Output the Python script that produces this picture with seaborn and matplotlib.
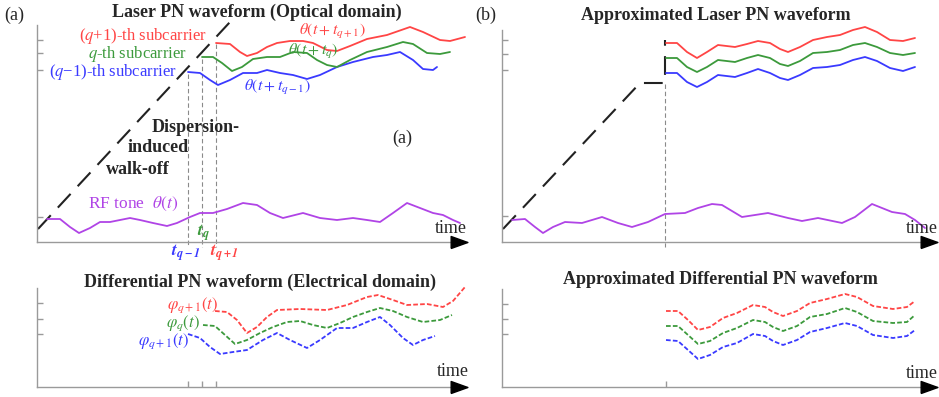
import numpy as np
import pandas as pd
import matplotlib
matplotlib.use("Agg")
import matplotlib.pyplot as plt
import seaborn as sns

sns.set_theme(style="white")
plt.rcParams["font.family"] = ["Liberation Serif", "DejaVu Serif"]
plt.rcParams["mathtext.fontset"] = "stix"

# ---------------- data (time / phase in screen-like units of each panel) -------------
# Top-left: laser PN waveform (optical domain)
tl_red_t = [216, 230, 240, 247, 257, 267, 277, 290, 303, 313, 327, 337, 350, 367, 387, 410, 423, 440, 450, 465]
tl_red_p = [43, 44, 52, 56, 53, 47, 43, 41, 41, 43, 50, 51, 46, 39, 35, 27, 32, 40, 41, 37]
tl_grn_t = [202, 213, 222, 232, 242, 253, 267, 280, 293, 307, 317, 327, 337, 350, 367, 387, 403, 413, 427, 440, 450]
tl_grn_p = [57, 57, 63, 71, 67, 59, 57, 57, 52, 53, 60, 65, 67, 60, 52, 47, 42, 44, 53, 54, 52]
tl_blu_t = [188, 200, 210, 218, 230, 243, 257, 267, 280, 293, 307, 320, 337, 353, 373, 387, 400, 413, 423, 433, 437]
tl_blu_p = [72, 73, 80, 85, 80, 73, 73, 70, 73, 75, 79, 75, 67, 62, 57, 55, 52, 60, 69, 70, 67]
tl_rf_t = [47, 60, 70, 79, 90, 100, 110, 120, 130, 140, 153, 167, 177, 190, 200, 213, 227, 243, 257, 270,
           283, 303, 320, 337, 353, 367, 380, 393, 407, 420, 433, 443, 453, 460]
tl_rf_p = [219, 219, 227, 233, 228, 222, 222, 220, 218, 220, 223, 226, 223, 217, 213, 213, 209, 203, 205, 213,
           218, 213, 218, 220, 218, 220, 222, 213, 203, 208, 213, 215, 220, 223]
tl_walk_t = [38, 230]
tl_walk_p = [229, 22]
tl_delays = [188, 202, 216]
tl_delay_top = [74, 59, 44]

# Top-right: approximated laser PN waveform
tr_t = [666, 677, 687, 697, 707, 718, 735, 747, 758, 770, 780, 788, 800, 813, 827, 840, 853, 865, 877, 890, 903, 915]
tr_red_p = [43, 43, 52, 58, 52, 45, 47, 44, 41, 43, 49, 52, 47, 40, 37, 35, 30, 27, 32, 40, 41, 38]
tr_grn_p = [58, 58, 67, 72, 67, 60, 62, 58, 55, 58, 64, 66, 61, 53, 52, 50, 45, 43, 47, 53, 55, 53]
tr_blu_p = [73, 73, 82, 87, 82, 75, 77, 73, 69, 73, 78, 80, 75, 68, 67, 65, 60, 57, 61, 68, 71, 67]
tr_rf_t = [512, 525, 535, 543, 553, 565, 582, 602, 618, 632, 648, 665, 685, 698, 712, 722, 742, 768, 788, 802,
           818, 842, 855, 872, 892, 905, 915, 925]
tr_rf_p = [220, 219, 227, 233, 227, 222, 223, 217, 223, 227, 222, 214, 213, 208, 204, 205, 217, 213, 218, 221,
           218, 223, 217, 204, 212, 214, 220, 228]
tr_walk_t = [503, 640, 665, 665]
tr_walk_p = [229, 83, 83, 40]

# Bottom-left: differential PN waveform (electrical domain)
bl_red_t = [215, 227, 237, 247, 257, 267, 277, 300, 327, 347, 367, 378, 393, 407, 427, 443, 453, 465]
bl_red_p = [311, 312, 320, 333, 327, 317, 310, 309, 310, 305, 297, 295, 300, 305, 304, 307, 301, 287]
bl_grn_t = [203, 215, 225, 235, 247, 260, 273, 287, 300, 313, 327, 340, 353, 367, 380, 393, 407, 423, 440, 452]
bl_grn_p = [325, 326, 335, 344, 340, 333, 327, 322, 321, 325, 328, 323, 317, 312, 308, 311, 317, 322, 320, 315]
bl_blu_t = [188, 200, 210, 220, 233, 247, 263, 277, 290, 307, 320, 337, 353, 367, 380, 390, 403, 413, 423, 435]
bl_blu_p = [334, 338, 347, 354, 352, 350, 340, 333, 340, 348, 340, 328, 328, 322, 317, 325, 338, 345, 340, 336]

# Bottom-right: approximated differential PN waveform
br_t = [666, 678, 688, 698, 710, 723, 737, 753, 765, 773, 783, 797, 810, 827, 845, 857, 873, 893, 907, 915]
br_red_p = [311, 311, 320, 330, 327, 318, 313, 305, 307, 312, 316, 311, 303, 299, 294, 297, 306, 309, 307, 301]
br_grn_p = [326, 326, 335, 344, 341, 333, 328, 320, 322, 327, 331, 326, 317, 314, 308, 312, 321, 323, 322, 315]
br_blu_p = [340, 341, 350, 359, 355, 347, 343, 334, 336, 341, 345, 340, 332, 328, 323, 326, 335, 338, 336, 330]

# ---------------- styling -------------
W, H = 939, 397
RED, GRN, BLU, PUR = "#ff4545", "#3c9a3c", "#3a3aff", "#b044e6"
AXC = "#9a9a9a"
ARROW = [(-1, -0.72), (1, 0), (-1, 0.72), (-1, -0.72)]
FS = 13

fig = plt.figure(figsize=(W / 100, H / 100), dpi=100)
fig.patch.set_facecolor("white")


def make_ax(box):
    left, right, top, bottom = box
    return fig.add_axes([left / W, 1 - bottom / H, (right - left) / W, (bottom - top) / H])


def finish(ax, box, yticks, xticks=()):
    left, right, top, bottom = box
    ax.set_xlim(left, right)
    ax.set_ylim(bottom, top)
    for s in ["top", "right"]:
        ax.spines[s].set_visible(False)
    for s in ["left", "bottom"]:
        ax.spines[s].set_color(AXC)
        ax.spines[s].set_linewidth(1.0)
    ax.set_yticks(yticks)
    ax.set_xticks(list(xticks))
    ax.tick_params(axis="both", direction="in", length=4, color=AXC, width=1,
                   labelleft=False, labelbottom=False, left=True, bottom=True)
    ax.set_xlabel("")
    ax.set_ylabel("")
    ax.set_facecolor("none")
    ax.plot([right - 8], [bottom], marker=ARROW, ms=12, color="black", clip_on=False, zorder=6)


def curve(ax, t, p, color, dashed=False, lw=1.3):
    sns.lineplot(x=t, y=p, ax=ax, color=color, linewidth=lw, sort=False, estimator=None, legend=False)
    ln = ax.lines[-1]
    ln.set_clip_on(False)
    ln.set_solid_joinstyle("round")
    ln.set_dash_joinstyle("round")
    if dashed:
        ln.set_dashes((2.6, 1.2))
    return ln


def ftext(x, y, s, **kw):
    kw.setdefault("fontsize", FS)
    kw.setdefault("va", "center")
    fig.text(x / W, 1 - y / H, s, **kw)


# ---------------- top-left -------------
box_tl = (37, 467, 25, 242)
ax = make_ax(box_tl)
ax.plot(tl_walk_t, tl_walk_p, color="#222222", lw=1.5, dashes=(9, 5), clip_on=False)
for x, y0 in zip(tl_delays, tl_delay_top):
    ax.plot([x, x], [y0, 247], color="#8a8a8a", lw=0.8, dashes=(4, 2.5), clip_on=False)
curve(ax, tl_rf_t, tl_rf_p, PUR)
curve(ax, tl_blu_t, tl_blu_p, BLU)
curve(ax, tl_grn_t, tl_grn_p, GRN)
curve(ax, tl_red_t, tl_red_p, RED)
finish(ax, box_tl, [40, 53, 70, 217])

# ---------------- top-right -------------
box_tr = (502, 937, 30, 242)
ax = make_ax(box_tr)
ax.plot([665, 665], [84, 247], color="#8a8a8a", lw=0.8, dashes=(4, 2.5), clip_on=False)
ax.plot(tr_walk_t, tr_walk_p, color="#222222", lw=1.5, dashes=(9, 5), clip_on=False)
curve(ax, tr_rf_t, tr_rf_p, PUR)
curve(ax, tr_t, tr_blu_p, BLU)
curve(ax, tr_t, tr_grn_p, GRN)
curve(ax, tr_t, tr_red_p, RED)
finish(ax, box_tr, [40, 54, 70, 216])

# ---------------- bottom-left -------------
box_bl = (37, 467, 288, 387)
ax = make_ax(box_bl)
curve(ax, bl_blu_t, bl_blu_p, BLU, dashed=True)
curve(ax, bl_grn_t, bl_grn_p, GRN, dashed=True)
curve(ax, bl_red_t, bl_red_p, RED, dashed=True)
finish(ax, box_bl, [303, 319, 334], tl_delays)

# ---------------- bottom-right -------------
box_br = (502, 937, 289, 387)
ax = make_ax(box_br)
curve(ax, br_t, br_blu_p, BLU, dashed=True)
curve(ax, br_t, br_grn_p, GRN, dashed=True)
curve(ax, br_t, br_red_p, RED, dashed=True)
finish(ax, box_br, [304, 319, 334], [666])

# ---------------- texts -------------
ftext(4, 15, "(a)", ha="left")
ftext(475, 15, "(b)", ha="left")
ftext(257, 12, "Laser PN waveform (Optical domain)", ha="center", fontweight="bold")
ftext(716, 15, "Approximated Laser PN waveform", ha="center", fontweight="bold")
ftext(260, 282, "Differential PN waveform (Electrical domain)", ha="center", fontweight="bold")
ftext(720, 280, "Approximated Differential PN waveform", ha="center", fontweight="bold")

ftext(207, 36, r"($q$+1)-th subcarrier", ha="right", color=RED, fontsize=12)
ftext(187, 54, r"$q$-th subcarrier", ha="right", color=GRN, fontsize=12)
ftext(177, 72, "($q$\u22121)-th subcarrier", ha="right", color=BLU, fontsize=12)

ftext(332, 32, r"$\theta(t+t_{q+1})$", ha="center", color=RED, fontsize=11.5)
ftext(313, 52, r"$\theta(t+t_{q})$", ha="center", color=GRN, fontsize=11.5)
ftext(277, 88, r"$\theta(t+t_{q-1})$", ha="center", color=BLU, fontsize=11.5)

ftext(152, 127, "Dispersion-", ha="left", fontweight="bold")
ftext(128, 148, "induced", ha="left", fontweight="bold")
ftext(106, 170, "walk-off", ha="left", fontweight="bold")
ftext(392, 138, "(a)", ha="left")
ftext(88, 204, r"RF tone  $\theta(t)$", ha="left", color=PUR, fontsize=12.5)

ftext(186, 253, r"$\mathbfit{t}_{\mathbfit{q-1}}$", ha="center", color=BLU, fontsize=12.5)
ftext(204, 233, r"$\mathbfit{t}_{\mathbfit{q}}$", ha="center", color=GRN, fontsize=12.5)
ftext(224, 253, r"$\mathbfit{t}_{\mathbfit{q+1}}$", ha="center", color=RED, fontsize=12.5)

ftext(193, 305, r"$\varphi_{q+1}(t)$", ha="center", color=RED, fontsize=12)
ftext(183, 323, r"$\varphi_{q}(t)$", ha="center", color=GRN, fontsize=12)
ftext(164, 341, r"$\varphi_{q+1}(t)$", ha="center", color=BLU, fontsize=12)

ftext(435, 229, "time", ha="left")
ftext(906, 229, "time", ha="left")
ftext(437, 372, "time", ha="left")
ftext(906, 373, "time", ha="left")

fig.savefig("out.png", dpi=100, facecolor="white")
